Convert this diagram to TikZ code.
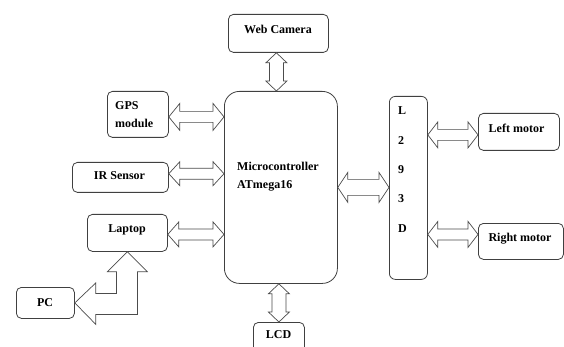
\documentclass[tikz,border=0pt]{standalone}
\usepackage{fontspec}
\setmainfont{Liberation Serif}
\usetikzlibrary{calc}
\tikzset{
  box/.style={draw=black!75, line width=0.8pt, rounded corners=5pt, anchor=north west, inner sep=0pt},
  lbl/.style={font=\fontsize{12}{14}\selectfont\bfseries, inner sep=0pt, anchor=base},
  hollow/.style={draw=black!70, line width=0.7pt, fill=white, line join=miter},
}
% horizontal hollow double arrow: #1 left end, #2 right end, #3 height,
% #4 head length, #5 half head width, #6 half shaft width
\newcommand\harr[6]{\draw[hollow] let \p1=#1, \p2=#2, \p3=#3 in
  (\x1,\y3) -- ++(#4,#5) -- ++(0,#6-#5) -- (\x2-#4,\y3+#6) -- ++(0,#5-#6)
  -- (\x2,\y3) -- ++(-#4,-#5) -- ++(0,#5-#6) -- (\x1+#4,\y3-#6) -- ++(0,#6-#5) -- cycle;}
% vertical hollow double arrow: #1 top end, #2 bottom end, #3 abscissa
\newcommand\varr[6]{\draw[hollow] let \p1=#1, \p2=#2, \p3=#3 in
  (\x3,\y1) -- ++(#5,-#4) -- ++(#6-#5,0) -- (\x3+#6,\y2+#4) -- ++(#5-#6,0)
  -- (\x3,\y2) -- ++(-#5,#4) -- ++(#5-#6,0) -- (\x3-#6,\y1-#4) -- ++(#6-#5,0) -- cycle;}
\begin{document}
\begin{tikzpicture}[x=1pt,y=-1pt]
\useasboundingbox[fill=white] (0,0) rectangle (564,347);

% blocks
\node[box, minimum width=100pt, minimum height=38pt] (cam) at (228,14) {};
\node[box, minimum width=61pt, minimum height=46pt] (gps) at (107,91) {};
\node[box, minimum width=96pt, minimum height=30pt] (ir) at (72,162) {};
\node[box, minimum width=80pt, minimum height=37pt] (lap) at (87,214) {};
\node[box, minimum width=58pt, minimum height=31pt] (pc) at (16,287) {};
\node[box, rounded corners=15pt, minimum width=113pt, minimum height=192pt] (micro) at (224,91) {};
\node[box, rounded corners=6pt, minimum width=38pt, minimum height=183pt] (drv) at (389,96) {};
\node[box, minimum width=81pt, minimum height=37pt] (lm) at (478,113) {};
\node[box, minimum width=85pt, minimum height=36pt] (rm) at (478,223) {};
\node[box, minimum width=51pt, minimum height=30pt] (lcd) at (253,322) {};

% labels
\node[lbl] (camT) at (278,33.5) {Web Camera};
\node[lbl, anchor=base west] (gpsT1) at (115,110) {GPS};
\node[lbl, anchor=base west] (gpsT2) at (115,128) {module};
\node[lbl] (irT) at (119.5,179.5) {IR Sensor};
\node[lbl] (lapT) at (127,232.5) {Laptop};
\node[lbl] (pcT) at (45,306) {PC};
\node[lbl, anchor=base west] (microT1) at (237,170.7) {Microcontroller};
\node[lbl, anchor=base west] (microT2) at (237,188.3) {ATmega16};
\foreach \c [count=\i from 0] in {L,2,9,3,D}
  \node[lbl, anchor=base west] (drvT\i) at (398,115+29.3*\i) {\c};
\node[lbl] (lmT) at (516.5,132.7) {Left motor};
\node[lbl] (rmT) at (520,241.7) {Right motor};
\node[lbl] (lcdT) at (278.5,338.3) {LCD};

% links
\varr{(cam.south)}{(micro.north)}{([xshift=-2pt]cam.south)}{10pt}{10.5pt}{7pt}
\harr{(gps.east)}{(micro.west)}{([yshift=-2.5pt]gps.east)}{11pt}{13.5pt}{5.5pt}
\harr{(ir.east)}{(micro.west)}{([yshift=3.7pt]ir.east)}{11pt}{12pt}{5.5pt}
\harr{(lap.east)}{(micro.west)}{([yshift=-1.5pt]lap.east)}{11pt}{12.5pt}{5.5pt}
\harr{(micro.east)}{(drv.west)}{(micro.east)}{10pt}{15pt}{8pt}
\harr{(drv.east)}{(lm.west)}{([yshift=-3pt]lm.west)}{10pt}{13pt}{5.5pt}
\harr{(drv.east)}{(rm.west)}{([yshift=7pt]rm.west)}{10pt}{13pt}{5.5pt}
\varr{(micro.south)}{(lcd.north)}{(lcd.north)}{10pt}{10.5pt}{7pt}

% bent link between laptop and PC
\draw[hollow] let \p1=(lap.south), \p2=(pc.east) in
  (\x1,\y1) -- (\x1+20pt,\y1-20pt) -- (\x1+10pt,\y1-20pt) -- (\x1+10pt,\y2-11.5pt)
  -- (\x2+21pt,\y2-11.5pt) -- (\x2+21pt,\y2-21.5pt) -- (\x2,\y2)
  -- (\x2+21pt,\y2+20pt) -- (\x2+21pt,\y2+9.5pt) -- (\x1-11pt,\y2+9.5pt)
  -- (\x1-11pt,\y1-20pt) -- (\x1-20pt,\y1-20pt) -- cycle;
\end{tikzpicture}
\end{document}
